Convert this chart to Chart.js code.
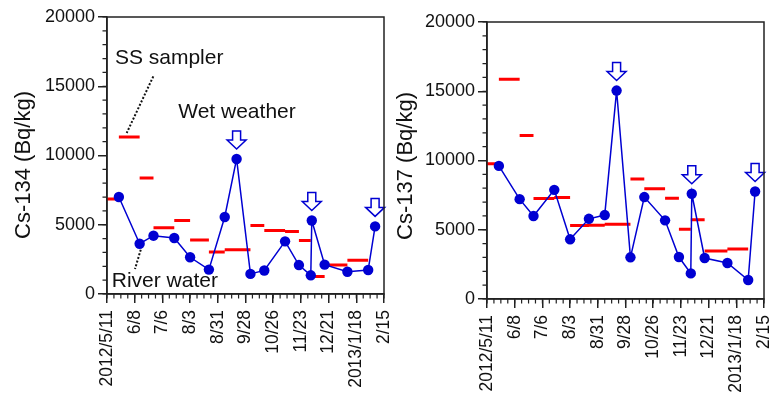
<!DOCTYPE html>
<html><head><meta charset="utf-8">
<script src="https://cdn.jsdelivr.net/npm/chart.js@4/dist/chart.umd.min.js"></script>
<style>
html,body{margin:0;padding:0;background:#fff;}
#wrap{position:relative;width:777px;height:394px;overflow:hidden;background:#fff;}
#c1{position:absolute;left:0;top:0;}
#c2{position:absolute;left:390px;top:0;}
</style></head><body>
<div id="wrap"><canvas id="c1" width="396" height="394"></canvas><canvas id="c2" width="387" height="394"></canvas></div>
<script>
// x values are days after 2012/5/11
const xTickLabels = ['2012/5/11','6/8','7/6','8/3','8/31','9/28','10/26','11/23','12/21','2013/1/18','2/15'];
const sampleDays = [12,33,47,68,84,103,119,131,145,159,180,194,206,207,220,243,264,271];
const riverCs134 = [7000,3630,4210,4040,2650,1760,5560,9750,1450,1700,3800,2090,1350,5310,2120,1610,1730,4880];
const riverCs137 = [9610,7210,5990,7880,4310,5790,6060,15050,3010,7360,5680,3030,1850,7600,2960,2600,1370,7760];
const wetIdx = [7,13,17];
const ssStart = [-9,12,33,47,68,84,103,119,145,159,180,194,206,220,243];
const ssEnd   = [12,33,47,68,84,103,119,145,159,180,194,206,220,243,264];
const ssCs134 = [6860,11340,8380,4790,5310,3900,3030,3200,4950,4590,4520,3870,1270,2090,2430];
const ssCs137 = [9760,15870,11800,7250,7330,5300,5320,5390,8660,7960,7280,5030,5720,3460,3610];

const FONT = '"Liberation Sans", Arial, sans-serif';
const BLUE = '#0000d2';
const RED = '#ff0000';
const AX = '#222';

function segData(vals){
  const d=[];
  for(let i=0;i<vals.length;i++){
    d.push({x:ssStart[i],y:vals[i]},{x:ssEnd[i],y:vals[i]},{x:ssEnd[i],y:null});
  }
  return d;
}
function pts(vals){ return sampleDays.map((d,i)=>({x:d,y:vals[i]})); }

const decorPlugin = {
  id:'decor',
  afterDatasetsDraw(chart){
    const o = chart.options.plugins.decor;
    const ctx = chart.ctx, xs = chart.scales.x, ys = chart.scales.y, a = chart.chartArea;
    ctx.save();
    // wet weather arrows
    ctx.strokeStyle = BLUE; ctx.lineWidth = 1.5; ctx.fillStyle = '#fff';
    o.wet.forEach(i=>{
      const x = xs.getPixelForValue(sampleDays[i]);
      const t = ys.getPixelForValue(o.vals[i]) - 10;
      ctx.beginPath();
      ctx.moveTo(x,t); ctx.lineTo(x-9.5,t-9); ctx.lineTo(x-4,t-9); ctx.lineTo(x-4,t-18);
      ctx.lineTo(x+4,t-18); ctx.lineTo(x+4,t-9); ctx.lineTo(x+9.5,t-9); ctx.closePath();
      ctx.fill(); ctx.stroke();
    });
    // frame
    ctx.strokeStyle = AX; ctx.lineWidth = 1.5;
    ctx.strokeRect(a.left, a.top, a.right-a.left, a.bottom-a.top);
    // minor ticks
    ctx.lineWidth = 1.2; ctx.beginPath();
    for(let d=xs.min; d<=xs.max; d+=7){ const x=xs.getPixelForValue(d); ctx.moveTo(x,a.bottom); ctx.lineTo(x,a.bottom+4.5); }
    for(let v=ys.min; v<=ys.max; v+=1000){ const y=ys.getPixelForValue(v); ctx.moveTo(a.left,y); ctx.lineTo(a.left-4.5,y); }
    ctx.stroke();
    // axis title
    ctx.fillStyle = '#111'; ctx.font = '22px '+FONT; ctx.textAlign='center'; ctx.textBaseline='middle';
    ctx.translate(o.titleX, o.titleY); ctx.rotate(-Math.PI/2); ctx.fillText(o.title,0,0);
    ctx.restore();
    // annotations
    if(o.notes){
      ctx.save();
      ctx.fillStyle='#111'; ctx.font='21px '+FONT; ctx.textBaseline='alphabetic'; ctx.textAlign='left';
      o.notes.texts.forEach(n=>ctx.fillText(n.t, xs.getPixelForValue(n.x), ys.getPixelForValue(n.y)));
      ctx.strokeStyle='#111'; ctx.lineWidth=2; ctx.setLineDash([2,1.8]);
      o.notes.lines.forEach(l=>{ ctx.beginPath(); ctx.moveTo(xs.getPixelForValue(l[0]),ys.getPixelForValue(l[1])); ctx.lineTo(xs.getPixelForValue(l[2]),ys.getPixelForValue(l[3])); ctx.stroke(); });
      ctx.restore();
    }
  }
};

function makeChart(id, river, ss, opts){
  return new Chart(document.getElementById(id), {
    type:'line',
    data:{datasets:[
      {data:segData(ss), borderColor:RED, borderWidth:3, pointRadius:0, spanGaps:false, borderCapStyle:'butt', order:2},
      {data:pts(river), borderColor:BLUE, backgroundColor:BLUE, borderWidth:1.5, pointRadius:5.2, pointBackgroundColor:BLUE, pointBorderWidth:0, tension:0, order:1}
    ]},
    options:{
      responsive:false, animation:false, devicePixelRatio:1,
      layout:{padding:{top:opts.top, right:opts.right, left:0, bottom:0}},
      plugins:{legend:{display:false}, tooltip:{enabled:false},
        decor:{wet:wetIdx, vals:river, title:opts.title, titleX:opts.titleX, titleY:opts.titleY, notes:opts.notes}},
      scales:{
        x:{type:'linear', min:0, max:280,
          afterFit(s){ s.height = opts.xh; s.paddingLeft=0; s.paddingRight=0; },
          ticks:{stepSize:28, autoSkip:false, minRotation:90, maxRotation:90, padding:7, color:'#111', font:{family:FONT,size:17.5},
            callback:(v)=>xTickLabels[Math.round(v/28)]},
          grid:{drawOnChartArea:false, drawTicks:true, tickLength:9, color:AX, lineWidth:1.5},
          border:{display:true, color:AX, width:1.5}},
        y:{min:0, max:20000,
          afterFit(s){ s.width = opts.yw; },
          ticks:{stepSize:5000, padding:3, color:'#111', font:{family:FONT,size:18}, callback:(v)=>String(v)},
          grid:{drawOnChartArea:false, drawTicks:true, tickLength:9, color:AX, lineWidth:1.5},
          border:{display:true, color:AX, width:1.5}}
      }
    },
    plugins:[decorPlugin]
  });
}

makeChart('c1', riverCs134, ssCs134, {top:17, right:12, xh:100, yw:107, title:'Cs-134 (Bq/kg)', titleX:24, titleY:165,
  notes:{texts:[{t:'SS sampler',x:8,y:16630},{t:'Wet weather',x:72,y:12690},{t:'River water',x:4.8,y:490}],
         lines:[[46.8,15710,19.9,11625],[34.1,3200,28.3,1805]]}});
makeChart('c2', riverCs137, ssCs137, {top:22, right:13, xh:95, yw:97, title:'Cs-137 (Bq/kg)', titleX:16, titleY:166});
</script>
</body></html>
